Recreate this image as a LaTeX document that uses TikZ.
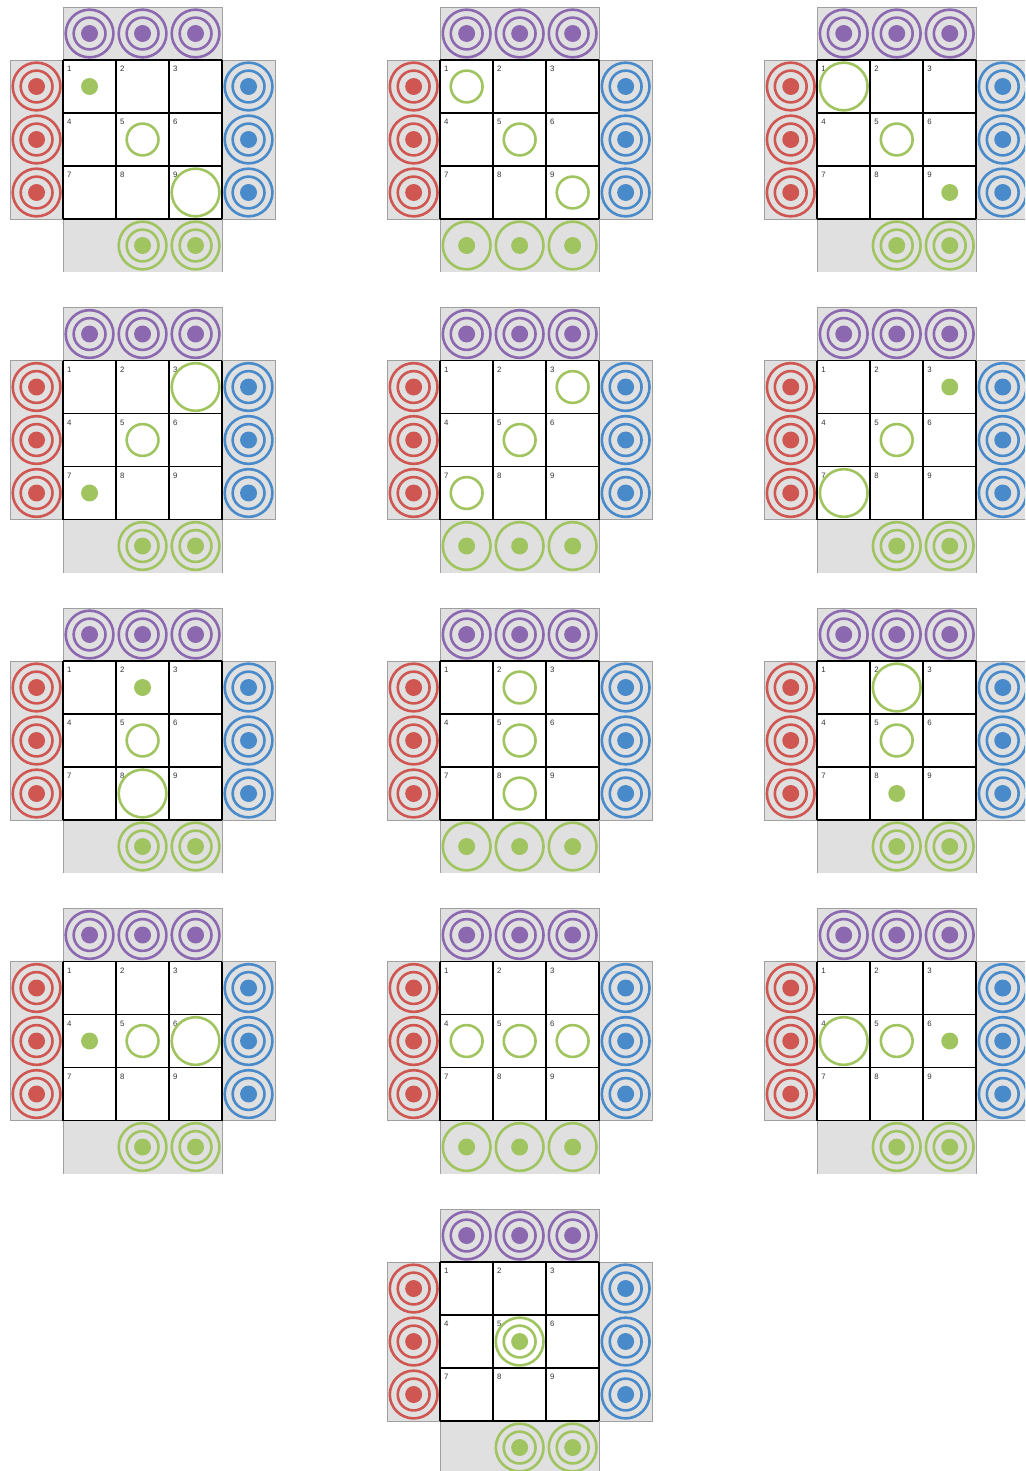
\documentclass[tikz,border=0pt]{standalone}
\usepackage{fontspec}
\setsansfont{Liberation Sans}
\usepackage{xcolor}
\usepackage{tikz}

\definecolor{gpurple}{RGB}{140,104,176}
\definecolor{gred}{RGB}{208,86,82}
\definecolor{gblue}{RGB}{72,138,202}
\definecolor{ggreen}{RGB}{160,196,96}
\definecolor{trayfill}{RGB}{224,224,224}
\definecolor{trayline}{RGB}{160,160,160}
\definecolor{numgray}{RGB}{50,50,50}

\begin{document}
\begin{tikzpicture}[
    bigring/.style={circle, draw, line width=1.4pt, inner sep=0pt, minimum size=0.9cm},
    midring/.style={circle, draw, line width=1.4pt, inner sep=0pt, minimum size=0.6cm},
    dotpiece/.style={circle, fill, inner sep=0pt, minimum size=0.32cm},
    tray/.style={fill=trayfill, draw=trayline, line width=0.5pt},
    cellgrid/.style={draw=black, line width=0.9pt},
    cellnum/.style={font=\fontsize{4.2}{5}\selectfont\sffamily, text=numgray, inner sep=0pt, anchor=north west},
    pics/big/.style={code={\node[bigring] (-b) {};}},
    pics/mid/.style={code={\node[midring] (-m) {};}},
    pics/dot/.style={code={\node[dotpiece] (-d) {};}},
    pics/stack/.style={code={\node[bigring] (-b) {}; \node[midring] (-m) {}; \node[dotpiece] (-d) {};}},
    pics/opendot/.style={code={\node[bigring] (-b) {}; \node[dotpiece] (-d) {};}},
    pics/empty/.style={code={}}
]
\useasboundingbox (0,0) rectangle (19.34,-27.755);
\clip (0,0) rectangle (19.34,-27.755);

% one board per entry: column/row/played pieces/green reserve
\foreach \bx/\by/\pcs/\tray [count=\i] in {
    0/0/{1/dot,5/mid,9/big}/{empty,stack,stack},
    1/0/{1/mid,5/mid,9/mid}/{opendot,opendot,opendot},
    2/0/{1/big,5/mid,9/dot}/{empty,stack,stack},
    0/1/{3/big,5/mid,7/dot}/{empty,stack,stack},
    1/1/{3/mid,5/mid,7/mid}/{opendot,opendot,opendot},
    2/1/{3/dot,5/mid,7/big}/{empty,stack,stack},
    0/2/{2/dot,5/mid,8/big}/{empty,stack,stack},
    1/2/{2/mid,5/mid,8/mid}/{opendot,opendot,opendot},
    2/2/{2/big,5/mid,8/dot}/{empty,stack,stack},
    0/3/{4/dot,5/mid,6/big}/{empty,stack,stack},
    1/3/{4/mid,5/mid,6/mid}/{opendot,opendot,opendot},
    2/3/{4/big,5/mid,6/dot}/{empty,stack,stack},
    1/4/{5/big,5/mid,5/dot}/{empty,stack,stack}%
}{
  \begin{scope}[shift={(1.19+7.115*\bx, -1.132-5.67*\by)}]
    % reserve trays
    \path[tray] (0,0) rectangle (3,1);
    \path[tray] (-1,0) rectangle (0,-3);
    \path[tray] (3,0) rectangle (4,-3);
    \fill[trayfill] (0,-3) rectangle (3,-4);
    \draw[trayline, line width=0.5pt] (0,-4) -- (0,-3) (3,-3) -- (3,-4);

    % 3x3 board
    \fill[white] (0,0) rectangle (3,-3);
    \draw[cellgrid] (0,-3) grid (3,0);
    \foreach \k [evaluate=\k as \cx using {int(mod(\k-1,3))}, evaluate=\k as \cy using {int((\k-1)/3)}] in {1,...,9}
      \node[cellnum] (b\i-n\k) at (\cx+0.07, -\cy-0.115) {\k};

    % other players' reserves
    \foreach \j in {1,2,3} {
      \pic[color=gpurple] (b\i-t\j) at (\j-0.5, 0.5) {stack};
      \pic[color=gred] (b\i-l\j) at (-0.5, 0.5-\j) {stack};
      \pic[color=gblue] (b\i-r\j) at (3.5, 0.5-\j) {stack};
    }
    \foreach \p [count=\j] in \tray
      \pic[color=ggreen] (b\i-g\j) at (\j-0.5, -3.5) {\p};

    % green pieces on the board
    \foreach \c/\s [evaluate=\c as \px using {mod(\c-1,3)+0.5}, evaluate=\c as \py using {-int((\c-1)/3)-0.5}] in \pcs
      \pic[color=ggreen] (b\i-c\c\s) at (\px, \py) {\s};
  \end{scope}
}
\end{tikzpicture}
\end{document}
